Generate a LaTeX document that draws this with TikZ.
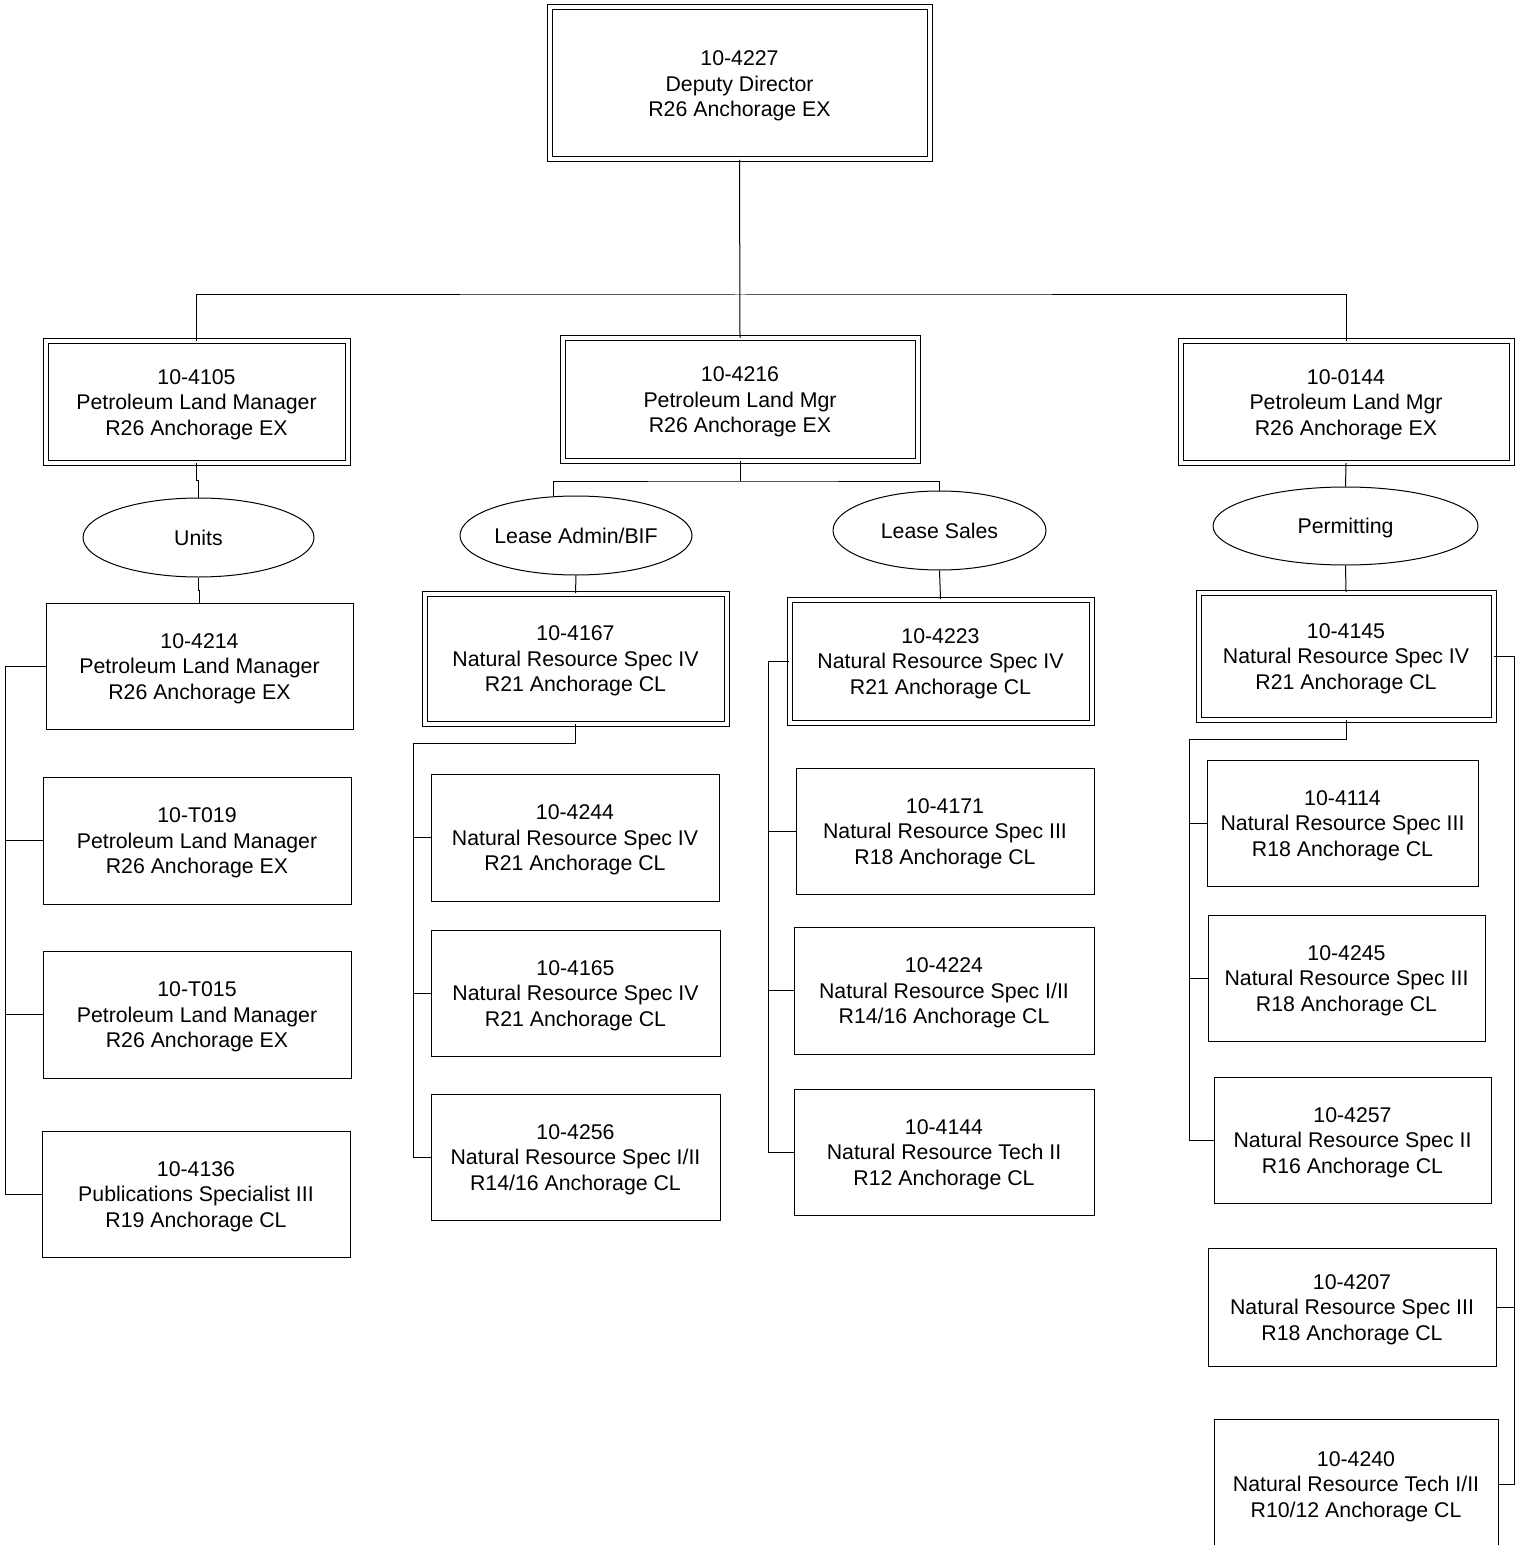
\documentclass[tikz,border=0pt]{standalone}
\usepackage{fontspec}
\setmainfont{Liberation Sans}
\usetikzlibrary{shapes.geometric}
\newcommand{\bxt}[3]{\raisebox{-1.3pt}[\height][\depth]{\begin{tabular}{@{}c@{}}#1\\#2\\#3\end{tabular}}}
\tikzset{
  txt/.style={font=\fontsize{10.65pt}{12.75pt}\selectfont, align=center, inner sep=0pt},
  pbox/.style 2 args={txt, draw, line width=0.5pt, rectangle, minimum width=#1*0.5pt, minimum height=#2*0.5pt},
  dbox/.style 2 args={txt, draw, line width=0.5pt, double, double distance=2pt, rectangle, minimum width=(#1-5)*0.5pt, minimum height=(#2-5)*0.5pt},
  unit/.style 2 args={txt, draw, line width=0.5pt, ellipse, minimum width=#1*0.5pt, minimum height=#2*0.5pt},
  conn/.style={draw, line width=0.5pt}
}
\begin{document}
\begin{tikzpicture}[x=0.5pt,y=-0.5pt]
\path[use as bounding box] (0,0) rectangle (1523,1545);
\clip (0,0) rectangle (1523,1545);

% top
\node[dbox={385}{157}] (top) at (739.5,83.5) {\bxt{10-4227}{Deputy Director}{R26 Anchorage EX}};
% managers
\node[dbox={307}{126}] (m1) at (196.5,402) {\bxt{10-4105}{Petroleum Land Manager}{R26 Anchorage EX}};
\node[dbox={360}{127}] (m2) at (740,399.5) {\bxt{10-4216}{Petroleum Land Mgr}{R26 Anchorage EX}};
\node[dbox={336}{126}] (m3) at (1346,402) {\bxt{10-0144}{Petroleum Land Mgr}{R26 Anchorage EX}};

% ellipses
\node[unit={231}{79}] (unitsE) at (198.5,537.5) {Units};
\node[unit={232}{79}] (laE) at (576,535.5) {Lease Admin/BIF};
\node[unit={213}{79}] (lsE) at (939.5,530.5) {Lease Sales};
\node[unit={265}{78}] (permE) at (1345.5,526) {\raisebox{-0.8pt}[\height][\depth]{Permitting}};

% units column
\node[pbox={307}{126}] (u1) at (199.5,666) {\bxt{10-4214}{Petroleum Land Manager}{R26 Anchorage EX}};
\node[pbox={308}{127}] (u2) at (197,840.5) {\bxt{10-T019}{Petroleum Land Manager}{R26 Anchorage EX}};
\node[pbox={308}{127}] (u3) at (197,1014.5) {\bxt{10-T015}{Petroleum Land Manager}{R26 Anchorage EX}};
\node[pbox={308}{126}] (u4) at (196,1194) {\bxt{10-4136}{Publications Specialist III}{R19 Anchorage CL}};

% lease admin column
\node[dbox={307}{135}] (la) at (575.5,658.5) {\bxt{10-4167}{Natural Resource Spec IV}{R21 Anchorage CL}};
\node[pbox={288}{127}] (la1) at (575,837.5) {\bxt{10-4244}{Natural Resource Spec IV}{R21 Anchorage CL}};
\node[pbox={289}{126}] (la2) at (575.5,993) {\bxt{10-4165}{Natural Resource Spec IV}{R21 Anchorage CL}};
\node[pbox={289}{126}] (la3) at (575.5,1157) {\bxt{10-4256}{Natural Resource Spec I/II}{R14/16 Anchorage CL}};

% lease sales column
\node[dbox={307}{128}] (ls) at (940.5,661) {\bxt{10-4223}{Natural Resource Spec IV}{R21 Anchorage CL}};
\node[pbox={298}{126}] (ls1) at (945,831) {\bxt{10-4171}{Natural Resource Spec III}{R18 Anchorage CL}};
\node[pbox={300}{127}] (ls2) at (944,990.5) {\bxt{10-4224}{Natural Resource Spec I/II}{R14/16 Anchorage CL}};
\node[pbox={300}{126}] (ls3) at (944,1152) {\bxt{10-4144}{Natural Resource Tech II}{R12 Anchorage CL}};

% permitting column
\node[dbox={300}{132}] (p) at (1346,656) {\bxt{10-4145}{Natural Resource Spec IV}{R21 Anchorage CL}};
\node[pbox={271}{126}] (p1) at (1342.5,823) {\bxt{10-4114}{Natural Resource Spec III}{R18 Anchorage CL}};
\node[pbox={277}{126}] (p2) at (1346.5,978) {\bxt{10-4245}{Natural Resource Spec III}{R18 Anchorage CL}};
\node[pbox={277}{126}] (p3) at (1352.5,1140) {\bxt{10-4257}{Natural Resource Spec II}{R16 Anchorage CL}};
\node[pbox={288}{118}] (p4) at (1352,1307) {\bxt{10-4207}{Natural Resource Spec III}{R18 Anchorage CL}};
\node[pbox={284}{130}] (p5) at (1356,1484) {\bxt{10-4240}{Natural Resource Tech I/II}{R10/12 Anchorage CL}};

% bus coordinates
\coordinate (topbus) at (740,295);
\coordinate (midbus) at (740,481);
\coordinate (lbus) at (5,0);
\coordinate (labus) at (413,0);
\coordinate (lsbus) at (768,0);
\coordinate (pbus) at (1189,0);
\coordinate (rbus) at (1514,0);

% top connectors
\draw[conn] (top.south) -- (m2.north);
\draw[conn] (m1.north) |- (topbus) -| (m3.north);

% units branch
\draw[conn] (m1.south) -- ++(0,17) -| (unitsE.north);
\draw[conn] (unitsE.south) -- ++(0,13) -| (u1.north);
\draw[conn] (u1.west) -- (u1.west -| lbus) |- (u4.west);
\draw[conn] (u2.west) -- (u2.west -| lbus);
\draw[conn] (u3.west) -- (u3.west -| lbus);

% middle branch
\draw[conn] (m2.south) -- (midbus);
\draw[conn] (laE.120.7) |- (midbus) -| (lsE.north);
\draw[conn] (laE.south) -- (la.north);
\draw[conn] (la.south) -- ++(0,19) -| (la3.west -| labus) -- (la3.west);
\draw[conn] (la1.west) -- (la1.west -| labus);
\draw[conn] (la2.west) -- (la2.west -| labus);

\draw[conn] (lsE.south) -- (ls.north);
\draw[conn] (ls.west) -- (ls.west -| lsbus) |- (ls3.west);
\draw[conn] (ls1.west) -- (ls1.west -| lsbus);
\draw[conn] (ls2.west) -- (ls2.west -| lsbus);

% permitting branch
\draw[conn] (m3.south) -- (permE.north);
\draw[conn] (permE.south) -- (p.north);
\draw[conn] (p.south) -- ++(0,19) -| (p3.west -| pbus) -- (p3.west);
\draw[conn] (p1.west) -- (p1.west -| pbus);
\draw[conn] (p2.west) -- (p2.west -| pbus);
\draw[conn] (p.east) -- (p.east -| rbus) |- (p5.east);
\draw[conn] (p4.east) -- (p4.east -| rbus);
\end{tikzpicture}
\end{document}
